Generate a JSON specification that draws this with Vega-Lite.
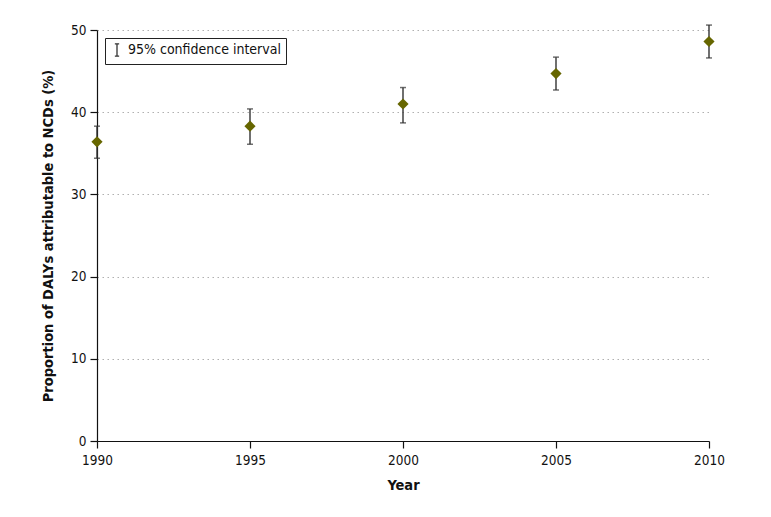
{
  "$schema": "https://vega.github.io/schema/vega-lite/v6.json",
  "width": 612,
  "height": 411,
  "autosize": "none",
  "padding": {"left": 97, "top": 30, "right": 62, "bottom": 76},
  "background": "white",
  "config": {
    "view": {"stroke": null},
    "font": "DejaVu Sans Condensed, Liberation Sans, sans-serif",
    "axis": {
      "labelFont": "DejaVu Sans Condensed, Liberation Sans, sans-serif",
      "titleFont": "DejaVu Sans Condensed, Liberation Sans, sans-serif",
      "labelFontSize": 13.5,
      "titleFontSize": 14.5,
      "titleFontWeight": "bold",
      "labelColor": "#111",
      "titleColor": "#111",
      "domainColor": "#111",
      "tickColor": "#111",
      "tickSize": 7,
      "domainWidth": 1.2,
      "tickWidth": 1.2,
      "labelFlush": false
    },
    "legend": {
      "labelFont": "DejaVu Sans Condensed, Liberation Sans, sans-serif",
      "labelFontSize": 14,
      "labelColor": "#111"
    }
  },
  "data": {
    "values": [
      {"year": 1990, "value": 36.4, "lo": 34.4, "hi": 38.3, "ci": "95% confidence interval"},
      {"year": 1995, "value": 38.3, "lo": 36.1, "hi": 40.4, "ci": "95% confidence interval"},
      {"year": 2000, "value": 41.0, "lo": 38.7, "hi": 43.0, "ci": "95% confidence interval"},
      {"year": 2005, "value": 44.7, "lo": 42.7, "hi": 46.7, "ci": "95% confidence interval"},
      {"year": 2010, "value": 48.6, "lo": 46.6, "hi": 50.6, "ci": "95% confidence interval"}
    ]
  },
  "encoding": {
    "x": {
      "field": "year",
      "type": "quantitative",
      "scale": {"domain": [1990, 2010], "nice": false, "zero": false},
      "axis": {
        "title": "Year",
        "values": [1990, 1995, 2000, 2005, 2010],
        "format": "d",
        "grid": false,
        "labelPadding": 5,
        "titlePadding": 12
      }
    }
  },
  "layer": [
    {
      "mark": {"type": "rule", "strokeWidth": 1.4, "color": "#333"},
      "encoding": {
        "y": {
          "field": "lo",
          "type": "quantitative",
          "scale": {"domain": [0, 50], "nice": false},
          "axis": {
            "title": "Proportion of DALYs attributable to NCDs (%)",
            "values": [0, 10, 20, 30, 40, 50],
            "grid": true,
            "gridDash": [1.5, 3.5],
            "gridColor": "#b0b0b0",
            "gridWidth": 1.2,
            "labelPadding": 4,
            "titlePadding": 15
          }
        },
        "y2": {"field": "hi"},
        "color": {
          "field": "ci",
          "type": "nominal",
          "scale": {"range": ["#333"]},
          "legend": {
            "title": null,
            "orient": "top-left",
            "offset": 8,
            "padding": 5,
            "strokeColor": "#222",
            "fillColor": "white",
            "symbolType": "M-0.35,-1H0.35M0,-1V1M-0.35,1H0.35",
            "symbolSize": 150,
            "symbolStrokeWidth": 1.3,
            "symbolFillColor": "transparent",
            "symbolStrokeColor": "#222",
            "labelOffset": 4
          }
        }
      }
    },
    {
      "mark": {"type": "tick", "orient": "horizontal", "size": 6, "thickness": 1.5, "color": "#333"},
      "encoding": {"y": {"field": "lo", "type": "quantitative"}}
    },
    {
      "mark": {"type": "tick", "orient": "horizontal", "size": 6, "thickness": 1.5, "color": "#333"},
      "encoding": {"y": {"field": "hi", "type": "quantitative"}}
    },
    {
      "mark": {"type": "point", "shape": "diamond", "filled": true, "size": 125, "color": "#666600", "opacity": 1},
      "encoding": {"y": {"field": "value", "type": "quantitative"}}
    }
  ]
}
